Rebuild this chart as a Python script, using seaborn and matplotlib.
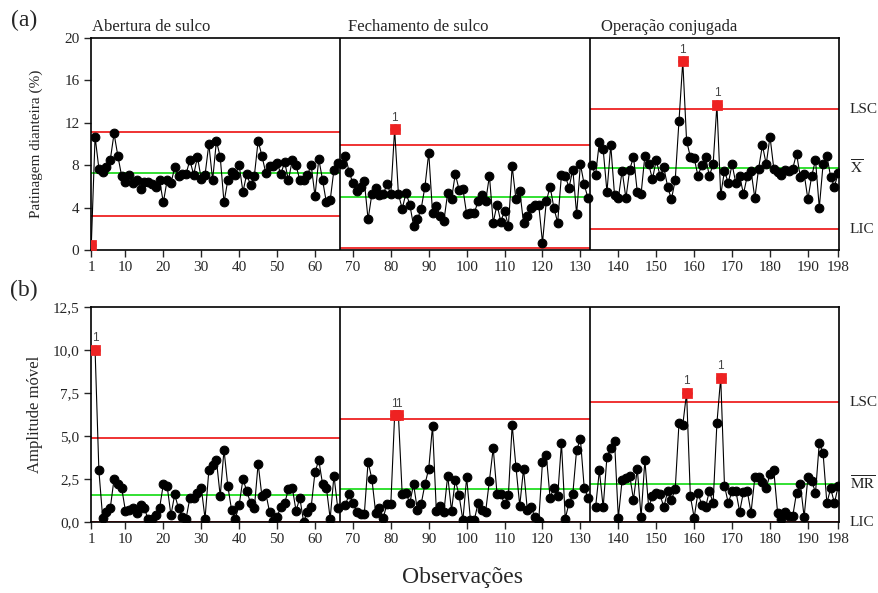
import numpy as np
import pandas as pd
import matplotlib
matplotlib.use("Agg")
import matplotlib.pyplot as plt
import matplotlib.transforms as mtransforms
import seaborn as sns

stages = ["Abertura de sulco", "Fechamento de sulco", "Operação conjugada"]

# individual values, Patinagem dianteira (%)
x_stage1 = [0.5, 10.7, 7.7, 7.4, 7.8, 8.5, 11.0, 8.9, 7.0, 6.4, 7.1, 6.3, 6.6, 5.8, 6.4, 6.4, 6.2, 6.0, 6.6, 4.5,
            6.6, 6.3, 7.8, 7.0, 7.2, 7.2, 8.5, 7.1, 8.8, 6.7, 7.1, 10.0, 6.6, 10.3, 8.8, 4.5, 6.6, 7.4, 7.1, 8.0,
            5.5, 7.2, 6.1, 7.0, 10.3, 8.9, 7.3, 7.9, 7.9, 8.2, 7.2, 8.3, 6.6, 8.5, 8.0, 6.6, 6.6, 7.1, 8.0, 5.1,
            8.6, 6.6, 4.5, 4.7, 7.6, 8.2]
x_stage2 = [8.1, 8.9, 7.4, 6.3, 5.6, 6.0, 6.5, 2.9, 5.3, 5.9, 5.2, 5.3, 6.2, 5.3, 11.4, 5.3, 3.9, 5.4, 4.3, 2.3,
            2.9, 3.9, 6.0, 9.2, 3.5, 4.2, 3.2, 2.8, 5.4, 4.8, 7.2, 5.7, 5.8, 3.4, 3.5, 3.5, 4.6, 5.2, 4.6, 7.0,
            2.6, 4.3, 2.7, 3.7, 2.3, 7.9, 4.8, 5.6, 2.6, 3.2, 4.0, 4.3, 4.3, 0.7, 4.6, 6.0, 4.0, 2.6, 7.1, 7.0,
            5.9, 7.6, 3.4, 8.1, 6.2, 4.9]
x_stage3 = [8.0, 7.1, 10.2, 9.5, 5.5, 9.9, 5.2, 4.9, 7.5, 4.9, 7.6, 8.8, 5.5, 5.3, 8.9, 8.1, 6.7, 8.5, 7.0, 7.8,
            6.0, 4.8, 6.6, 12.2, 17.8, 10.3, 8.8, 8.7, 7.0, 8.0, 8.8, 7.0, 8.1, 13.7, 5.2, 7.5, 6.3, 8.1, 6.3, 7.0,
            5.3, 7.0, 7.5, 4.9, 7.7, 9.9, 8.1, 10.7, 7.7, 7.4, 7.1, 7.6, 7.5, 7.7, 9.1, 6.9, 7.2, 4.8, 7.0, 8.5,
            4.0, 8.1, 8.9, 6.9, 6.0, 7.3]

# moving ranges (first point of each stage has none)
mr_stage1 = [np.nan, 10.0, 3.0, 0.25, 0.6, 0.8, 2.5, 2.2, 2.0, 0.65, 0.7, 0.8, 0.5, 1.0, 0.8, 0.15, 0.15, 0.4, 0.8, 2.2,
             2.1, 0.4, 1.6, 0.8, 0.3, 0.2, 1.4, 1.4, 1.7, 2.0, 0.2, 3.0, 3.3, 3.6, 1.5, 4.2, 2.1, 0.7, 0.2, 1.0,
             2.5, 1.8, 1.1, 0.8, 3.4, 1.5, 1.7, 0.6, 0.05, 0.3, 0.9, 1.1, 1.9, 2.0, 0.65, 1.4, 0.0, 0.6, 0.9, 2.9,
             3.6, 2.2, 2.0, 0.2, 2.7, 0.8]
mr_stage2 = [np.nan, 1.0, 1.6, 1.1, 0.6, 0.45, 0.45, 3.5, 2.5, 0.55, 0.8, 0.25, 1.05, 1.05, 6.2, 6.2, 1.6, 1.7, 1.1, 2.2,
             0.7, 1.05, 2.2, 3.1, 5.6, 0.65, 0.95, 0.6, 2.7, 0.65, 2.45, 1.55, 0.1, 2.6, 0.1, 0.1, 1.1, 0.7, 0.6, 2.4,
             4.3, 1.65, 1.6, 1.05, 1.55, 5.65, 3.2, 0.95, 3.1, 0.7, 0.85, 0.3, 0.05, 3.5, 3.9, 1.4, 2.0, 1.5, 4.6, 0.2,
             1.1, 1.65, 4.2, 4.8, 2.0, 1.4]
mr_stage3 = [np.nan, 0.85, 3.0, 0.85, 3.8, 4.3, 4.7, 0.25, 2.45, 2.55, 2.7, 1.3, 3.1, 0.3, 3.6, 0.85, 1.5, 1.7, 1.6, 0.85,
             1.8, 1.3, 1.9, 5.75, 5.65, 7.5, 1.5, 0.25, 1.7, 1.0, 0.85, 1.8, 1.1, 5.75, 8.4, 2.1, 1.1, 1.8, 1.8, 0.6,
             1.75, 1.8, 0.55, 2.6, 2.6, 2.35, 1.95, 2.8, 3.0, 0.55, 0.2, 0.6, 0.35, 0.35, 1.7, 2.2, 0.3, 2.6, 2.4, 1.7,
             4.6, 4.0, 1.1, 1.95, 1.1, 2.1]

# control limits per stage
x_lsc = [11.15, 9.9, 13.3]
x_mean = [7.3, 5.05, 7.75]
x_lic = [3.2, 0.2, 2.0]
mr_lsc = [4.9, 6.0, 6.95]
mr_mean = [1.55, 1.9, 2.2]
mr_lic = [0.0, 0.0, 0.0]

x_flags = [1, 81, 157, 166]
mr_flags = [2, 81, 82, 158, 167]
x_ticks = [1, 10, 20, 30, 40, 50, 60, 70, 80, 90, 100, 110, 120, 130, 140, 150, 160, 170, 180, 190, 198]

n = len(x_stage1)
df = pd.DataFrame({
    "obs": np.arange(1, 3 * n + 1),
    "stage": np.repeat(stages, n),
    "X": x_stage1 + x_stage2 + x_stage3,
    "MR": mr_stage1 + mr_stage2 + mr_stage3,
})

sns.set_style("ticks")
plt.rcParams["font.family"] = ["Liberation Serif", "DejaVu Serif"]
plt.rcParams["mathtext.fontset"] = "stix"

RED = "#ee2222"
GREEN = "#22dd22"

fig = plt.figure(figsize=(8.79, 5.93), dpi=100)
ax1 = fig.add_axes([0.103, 0.578, 0.8515, 0.358])
ax2 = fig.add_axes([0.103, 0.1197, 0.8515, 0.3626])

panels = [
    (ax1, "X", x_lsc, x_mean, x_lic, x_flags, (0, 20), [0, 4, 8, 12, 16, 20]),
    (ax2, "MR", mr_lsc, mr_mean, mr_lic, mr_flags, (0, 12.5), [0, 2.5, 5, 7.5, 10, 12.5]),
]

for ax, col, lsc, mean, lic, flags, ylim, yticks in panels:
    for i, st in enumerate(stages):
        sub = df[df["stage"] == st].dropna(subset=[col])
        lo, hi = i * n + 0.5, (i + 1) * n + 0.5
        ax.hlines(lsc[i], lo, hi, color=RED, lw=1.3, zorder=2)
        ax.hlines(lic[i], lo, hi, color=RED, lw=1.3, zorder=2)
        ax.hlines(mean[i], lo, hi, color=GREEN, lw=1.3, zorder=2)
        sns.lineplot(data=sub, x="obs", y=col, ax=ax, color="black", linewidth=0.8,
                     marker="o", markersize=6.3, markeredgecolor="black", estimator=None,
                     legend=False, zorder=3)
    flagged = df[df["obs"].isin(flags)]
    sns.scatterplot(data=flagged, x="obs", y=col, ax=ax, marker="s", color=RED,
                    edgecolor=RED, s=45, legend=False, zorder=5)
    for _, row in flagged.iterrows():
        if col == "X" and row["obs"] == 1:
            continue
        ax.annotate("1", (row["obs"], row[col]), xytext=(0, 4), textcoords="offset points",
                    ha="center", va="bottom", fontsize=8.5, family="Liberation Sans", color="#444444")
    for b in [n + 0.5, 2 * n + 0.5]:
        ax.axvline(b, color="black", lw=1.2, zorder=4)
    ax.set_xlim(0.8, 198.2)
    ax.set_ylim(*ylim)
    ax.set_yticks(yticks)
    ax.set_xticks(x_ticks)
    ax.set_xlabel("")
    ax.tick_params(direction="out", length=5, width=1, labelsize=11, pad=3)
    for sp in ax.spines.values():
        sp.set_color("black")
        sp.set_linewidth(1.2)

ax2.set_yticklabels(["0,0", "2,5", "5,0", "7,5", "10,0", "12,5"])

ax1.set_ylabel("Patinagem dianteira (%)", fontsize=11)
ax2.set_ylabel("Amplitude móvel", fontsize=12)
ax1.yaxis.set_label_coords(-0.064, 0.5)
ax2.yaxis.set_label_coords(-0.064, 0.5)

# stage titles
ttrans = mtransforms.blended_transform_factory(ax1.transData, ax1.transAxes)
for st, xs in zip(stages, [1.3, 68.8, 135.3]):
    ax1.text(xs, 1.052, st, transform=ttrans, ha="left", va="center", fontsize=12)

# right-hand limit labels
for ax, vals, labels in [(ax1, [x_lsc[2], x_mean[2], x_lic[2]], ["LSC", r"$\overline{\mathrm{X}}$", "LIC"]),
                         (ax2, [mr_lsc[2], mr_mean[2], mr_lic[2]], ["LSC", r"$\overline{\mathrm{MR}}$", "LIC"])]:
    rtrans = mtransforms.blended_transform_factory(ax.transAxes, ax.transData)
    for v, lab in zip(vals, labels):
        ax.text(1.0147, v, lab, transform=rtrans, ha="left", va="center", fontsize=11)

fig.text(24 / 879, 1 - 20 / 593, "(a)", fontsize=17, ha="center", va="center")
fig.text(24 / 879, 1 - 290 / 593, "(b)", fontsize=17, ha="center", va="center")
fig.text(463 / 879, 1 - 578 / 593, "Observações", fontsize=17, ha="center", va="center")

fig.savefig("out.png", dpi=100)
